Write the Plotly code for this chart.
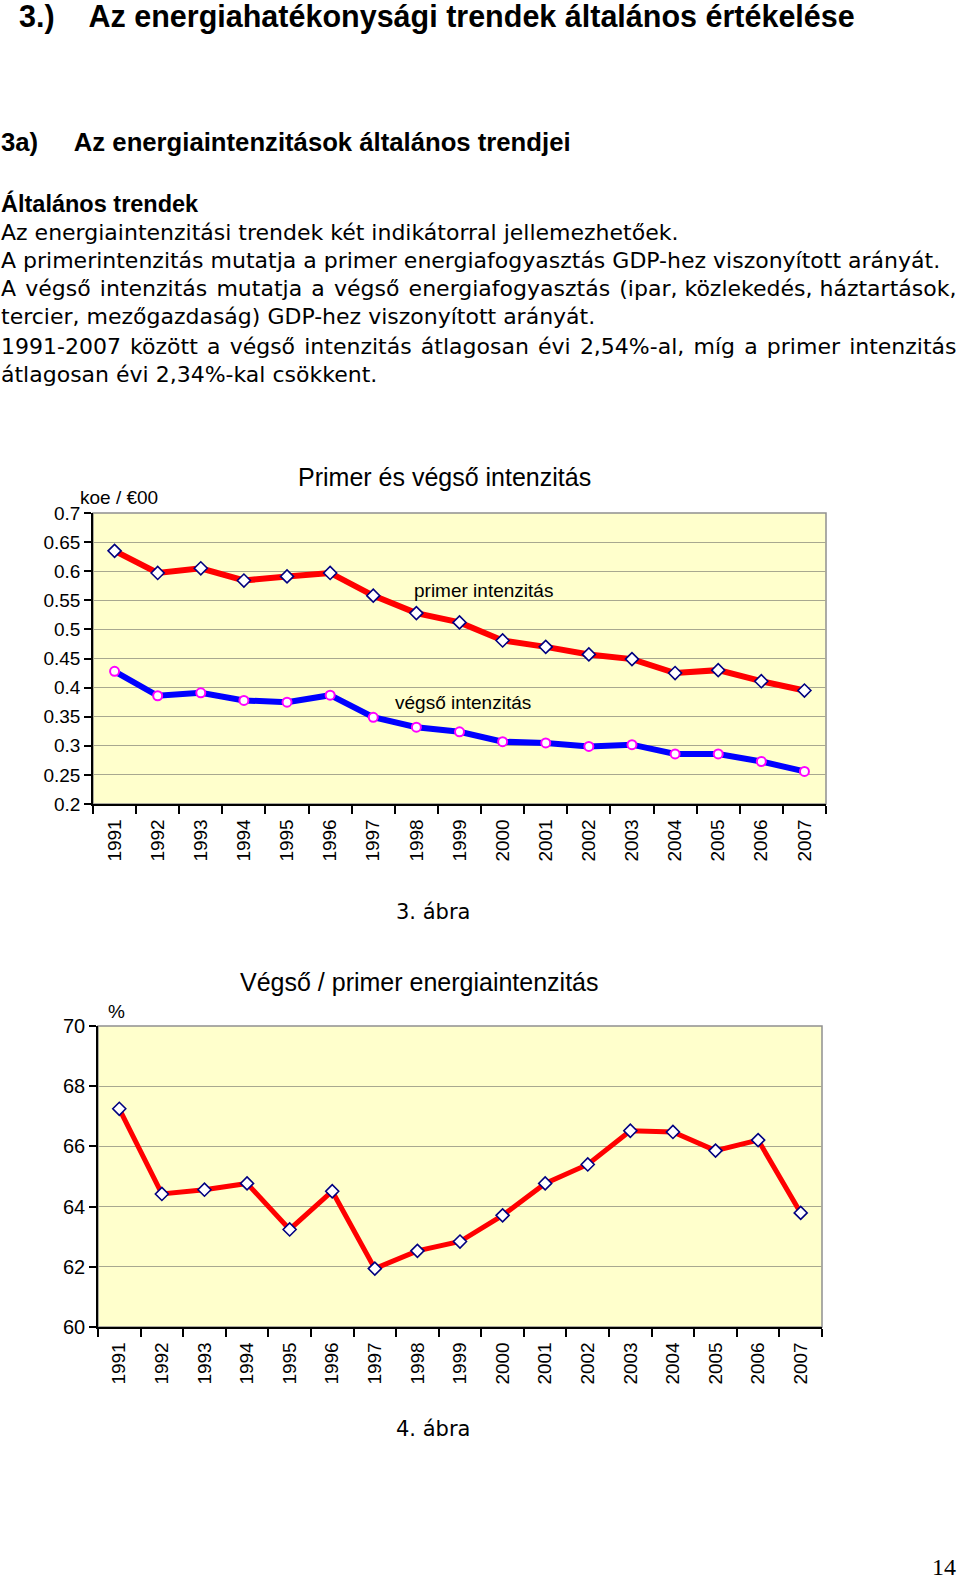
import plotly.graph_objects as go

W, H = 960, 1580

# ---------------- data ----------------
years = [str(y) for y in range(1991, 2008)]
primer = [0.635, 0.597, 0.605, 0.584, 0.591, 0.597, 0.558, 0.528, 0.512,
          0.481, 0.470, 0.457, 0.449, 0.425, 0.430, 0.411, 0.395]
vegso = [0.428, 0.386, 0.391, 0.378, 0.375, 0.387, 0.349, 0.332, 0.324,
         0.307, 0.305, 0.299, 0.302, 0.286, 0.286, 0.273, 0.256]
arany = [67.25, 64.42, 64.56, 64.77, 63.24, 64.51, 61.94, 62.53, 62.84,
         63.71, 64.77, 65.40, 66.52, 66.48, 65.86, 66.21, 63.79]

y1_ticks = [0.2, 0.25, 0.3, 0.35, 0.4, 0.45, 0.5, 0.55, 0.6, 0.65, 0.7]
y1_labels = ["0.2", "0.25", "0.3", "0.35", "0.4", "0.45", "0.5", "0.55", "0.6", "0.65", "0.7"]
y2_ticks = [60, 62, 64, 66, 68, 70]
y2_labels = ["60", "62", "64", "66", "68", "70"]

heading1 = "3.)\u00a0\u00a0\u00a0\u00a0Az energiahatékonysági trendek általános értékelése"
heading2 = "3a)\u00a0\u00a0\u00a0\u00a0\u00a0Az energiaintenzitások általános trendjei"
subheading = "Általános trendek"
body_lines = [
    "Az energiaintenzitási trendek két indikátorral jellemezhetőek.",
    "A primerintenzitás mutatja a primer energiafogyasztás GDP-hez viszonyított arányát.",
    "A végső intenzitás mutatja a végső energiafogyasztás (ipar, közlekedés, háztartások,",
    "tercier, mezőgazdaság) GDP-hez viszonyított arányát.",
    "1991-2007 között a végső intenzitás átlagosan évi 2,54%-al, míg a primer intenzitás",
    "átlagosan évi 2,34%-kal csökkent.",
]
justify_gaps = [0, 0, 7, 0, 11, 0]   # number of word gaps widened (justified lines)
title1 = "Primer és végső intenzitás"
title2 = "Végső / primer energiaintenzitás"
unit1 = "koe / €00"
unit2 = "%"
label_primer = "primer intenzitás"
label_vegso = "végső intenzitás"
caption1 = "3. ábra"
caption2 = "4. ábra"
page_no = "14"

# ---------------- helpers ----------------
def px(x):
    return x / W

def py(y):
    return 1 - y / H

BODY_FONT = "DejaVu Sans"
HEAD_FONT = "Liberation Sans Narrow, Liberation Sans, Arial"
CHART_FONT = "Liberation Sans, Arial"
BG = "#FFFFCC"
GRID = "#A8A890"

fig = go.Figure()

fig.add_trace(go.Scatter(
    x=years, y=primer, mode="lines+markers", xaxis="x", yaxis="y",
    line=dict(color="#FF0000", width=6),
    marker=dict(symbol="diamond", size=10, color="white",
                line=dict(color="#000080", width=1.6)),
    showlegend=False))
fig.add_trace(go.Scatter(
    x=years, y=vegso, mode="lines+markers", xaxis="x", yaxis="y",
    line=dict(color="#0000FF", width=6),
    marker=dict(symbol="circle", size=9, color="white",
                line=dict(color="#FF00FF", width=2)),
    showlegend=False))
fig.add_trace(go.Scatter(
    x=years, y=arany, mode="lines+markers", xaxis="x2", yaxis="y2",
    line=dict(color="#FF0000", width=5),
    marker=dict(symbol="diamond", size=10, color="white",
                line=dict(color="#000080", width=1.6)),
    showlegend=False))

d1x = [px(93), px(826)]
d1y = [py(804), py(513)]
d2x = [px(98), px(822)]
d2y = [py(1327), py(1026)]

xcommon = dict(type="category", showgrid=False, showline=True, linecolor="black",
               linewidth=1.5, ticks="outside", tickson="boundaries", ticklen=8,
               tickcolor="black", tickwidth=1.5, tickangle=-90, automargin=False,
               ticklabelstandoff=6,
               tickfont=dict(family=CHART_FONT, size=19, color="black"),
               range=[-0.5, 16.5], fixedrange=True)

fig.update_layout(
    template="none",
    width=W, height=H, autosize=False,
    margin=dict(l=0, r=0, t=0, b=0, pad=0, autoexpand=False),
    paper_bgcolor="white", plot_bgcolor=BG,
    xaxis=dict(domain=d1x, anchor="y", **xcommon),
    yaxis=dict(domain=d1y, anchor="x", range=[0.2, 0.7], tickvals=y1_ticks,
               ticktext=y1_labels, showgrid=True, gridcolor=GRID, gridwidth=1,
               showline=True, linecolor="black", linewidth=1.5, ticks="outside",
               ticklen=7, tickcolor="black", tickwidth=1.5, automargin=False,
               fixedrange=True,
               tickfont=dict(family=CHART_FONT, size=19, color="black"), zeroline=False),
    xaxis2=dict(domain=d2x, anchor="y2", **xcommon),
    yaxis2=dict(domain=d2y, anchor="x2", range=[60, 70], tickvals=y2_ticks,
                ticktext=y2_labels, showgrid=True, gridcolor=GRID, gridwidth=1,
                showline=True, linecolor="black", linewidth=1.5, ticks="outside",
                ticklen=7, tickcolor="black", tickwidth=1.5, automargin=False,
                fixedrange=True,
                tickfont=dict(family=CHART_FONT, size=20, color="black"), zeroline=False),
)

# plot-area borders (gray top/right)
for (dx, dy) in [(d1x, d1y), (d2x, d2y)]:
    fig.add_shape(type="rect", xref="paper", yref="paper",
                  x0=dx[0], x1=dx[1], y0=dy[0], y1=dy[1],
                  line=dict(color="#909090", width=1.5), layer="below")

ann = []

def text(t, x, y, size, family, xanchor="left", bold=False, color="black"):
    s = f"<b>{t}</b>" if bold else t
    ann.append(dict(text=s, x=px(x), y=py(y), xref="paper", yref="paper",
                    xanchor=xanchor, yanchor="middle", showarrow=False,
                    font=dict(size=size, family=family, color=color)))

def justify(t, n):
    words = t.split(" ")
    out = words[0]
    for i, w in enumerate(words[1:]):
        out += (" \u200a" if i < n else " ") + w
    return out

text(heading1, 17, 17, 30.5, HEAD_FONT, bold=True)
text(heading2, -1, 142, 25.7, HEAD_FONT, bold=True)
text(subheading, -1, 203, 23.5, HEAD_FONT, bold=True)
line_y = [232, 260, 289, 317, 346, 375]
for t, yy, n in zip(body_lines, line_y, justify_gaps):
    text(justify(t, n), -1, yy, 22, BODY_FONT)

text(title1, 444, 477, 25, CHART_FONT, xanchor="center")
text(unit1, 78, 497, 19, CHART_FONT)
text(label_primer, 483, 590, 19, CHART_FONT, xanchor="center")
text(label_vegso, 463, 703, 19, CHART_FONT, xanchor="center")
text(caption1, 433, 912, 21, BODY_FONT, xanchor="center")

text(title2, 419, 982, 25, CHART_FONT, xanchor="center")
text(unit2, 116, 1011, 19, CHART_FONT, xanchor="center")
text(caption2, 433, 1429, 21, BODY_FONT, xanchor="center")
text(page_no, 944, 1567, 24, "Liberation Serif, Times New Roman", xanchor="center")

fig.update_layout(annotations=ann)

fig.write_html("out.html", config={"displayModeBar": False},
               post_script="document.body.style.margin='0px';document.body.style.overflow='hidden';")
